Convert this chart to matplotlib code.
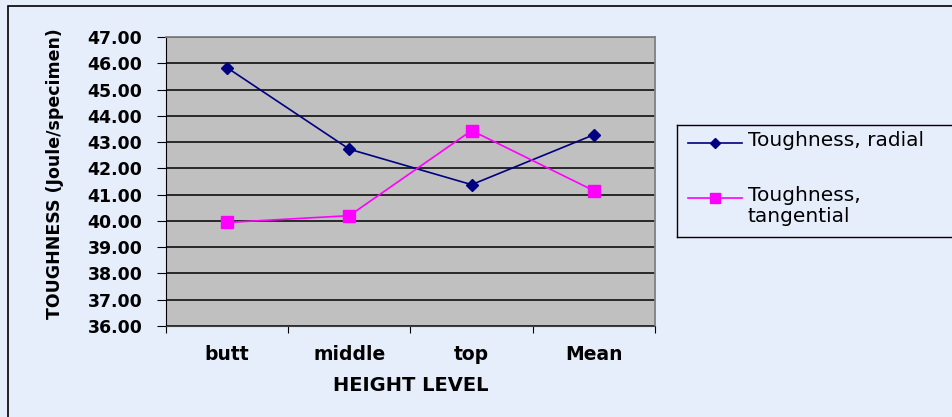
import matplotlib
matplotlib.use("Agg")
import matplotlib.pyplot as plt
from matplotlib.patches import Rectangle

# ── Data ───────────────────────────────────────────────────────────────────
levels     = ["butt", "middle", "top", "Mean"]
radial     = [45.83, 42.73, 41.38, 43.28]
tangential = [39.94, 40.20, 43.44, 41.15]
y_ticks    = [36, 37, 38, 39, 40, 41, 42, 43, 44, 45, 46, 47]

BG    = "#E6EEFC"
NAVY  = "#000080"
PINK  = "#FF00FF"
plt.rcParams["font.family"] = ["DejaVu Sans"]

W, H = 953, 417

# ── Chart ──────────────────────────────────────────────────────────────────
fig = plt.figure(figsize=(W / 100, H / 100), dpi=100, facecolor=BG)
fig.patches.append(Rectangle((8 / W, -0.1), 1.2, 1 - 6 / H + 0.1,
                             transform=fig.transFigure, fill=False,
                             edgecolor="black", linewidth=1.2))

ax = fig.add_axes([166 / W, 1 - 326 / H, 489 / W, 289 / H])
ax.set_facecolor("#C0C0C0")

x = [i + 0.5 for i in range(len(levels))]
ax.plot(x, radial, color=NAVY, linewidth=1.2, marker="D", markersize=6.5, zorder=3)
ax.plot(x, tangential, color=PINK, linewidth=1.2, marker="s", markersize=8, zorder=3)

ax.set_xlim(0, len(levels))
ax.set_ylim(36, 47)
ax.set_yticks(y_ticks)
ax.set_yticklabels([f"{v:.2f}" for v in y_ticks], fontsize=12.5, fontweight="bold")
ax.set_xticks(range(len(levels) + 1))
ax.set_xticklabels([])
ax.set_xticks(x, minor=True)
ax.set_xticklabels(levels, minor=True, fontsize=13.5, fontweight="bold")
ax.tick_params(axis="x", which="minor", length=0, pad=14)
ax.tick_params(axis="x", which="major", length=5, direction="out", color="black")
ax.tick_params(axis="y", length=6.5, direction="out", pad=10.5, color="black")

ax.grid(axis="y", color="black", linewidth=1.1)
ax.set_axisbelow(True)
for side in ("top", "right"):
    ax.spines[side].set_color("#808080")
    ax.spines[side].set_linewidth(1.3)
ax.spines["left"].set_color("black")
ax.spines["bottom"].set_color("#404040")

ax.set_ylabel("TOUGHNESS (Joule/specimen)", fontsize=12.5, fontweight="bold")
ax.yaxis.set_label_coords(-0.209, 0.528)
ax.set_xlabel("HEIGHT LEVEL", fontsize=14, fontweight="bold", labelpad=8)

# ── Legend box (runs off the right edge) ───────────────────────────────────
lg = fig.add_axes([677 / W, 1 - 237 / H, 300 / W, 112 / H])
lg.set_facecolor(BG)
lg.set_xlim(0, 300)
lg.set_ylim(112, 0)
lg.set_xticks([])
lg.set_yticks([])
for s in lg.spines.values():
    s.set_color("black")
    s.set_linewidth(1.0)

entries = [("Toughness, radial", NAVY, "D", 5, 18),
           ("Toughness,\ntangential", PINK, "s", 6.5, 73)]
for label, color, mk, ms, yy in entries:
    lg.plot([11, 65], [yy, yy], color=color, linewidth=1.2)
    lg.plot([38], [yy], color=color, marker=mk, markersize=ms)
    lg.text(71, yy - 12, label, fontsize=14.5, va="top", ha="left",
            linespacing=1.15)

fig.savefig("out.png", dpi=100, facecolor=BG)
